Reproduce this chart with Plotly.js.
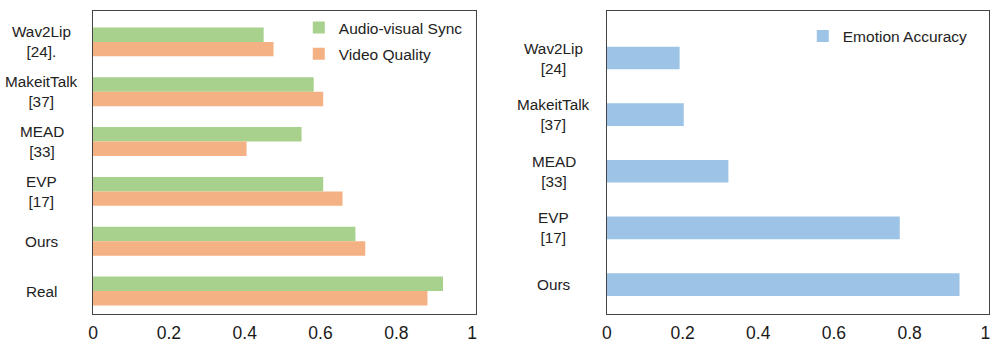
<!DOCTYPE html>
<html>
<head>
<meta charset="utf-8">
<script src="https://cdn.plot.ly/plotly-3.0.1.min.js"></script>
<style>
  html, body { margin: 0; padding: 0; background: #fff; }
  #chart { width: 996px; height: 352px; }
</style>
</head>
<body>
<div id="chart"></div>
<script>
// Left panel: sync / quality per method
const leftMethods = ["Wav2Lip<br>[24].", "MakeitTalk<br>[37]", "MEAD<br>[33]", "EVP<br>[17]", "Ours", "Real"];
const syncScores = [0.45, 0.582, 0.55, 0.607, 0.692, 0.923];
const qualityScores = [0.476, 0.607, 0.405, 0.658, 0.718, 0.882];

// Right panel: emotion accuracy
const rightMethods = ["Wav2Lip<br>[24]", "MakeitTalk<br>[37]", "MEAD<br>[33]", "EVP<br>[17]", "Ours"];
const emotionScores = [0.192, 0.203, 0.321, 0.774, 0.932];

const xTicks = [0, 0.2, 0.4, 0.6, 0.8, 1];

const font = "Arial, 'Liberation Sans', sans-serif";

const traces = [
  {
    type: "bar", orientation: "h", name: "Audio-visual Sync",
    y: leftMethods, x: syncScores, xaxis: "x", yaxis: "y",
    marker: { color: "#a9d18e" }, legend: "legend", legendgroup: "sync"
  },
  {
    type: "bar", orientation: "h", name: "Video Quality",
    y: leftMethods, x: qualityScores, xaxis: "x", yaxis: "y",
    marker: { color: "#f4b183" }, legend: "legend", legendgroup: "quality"
  },
  {
    type: "bar", orientation: "h", name: "Emotion Accuracy",
    y: rightMethods, x: emotionScores, xaxis: "x2", yaxis: "y2",
    width: 0.4, marker: { color: "#9dc3e6" }, legend: "legend2", showlegend: true
  }
];

function xAxis(domain, anchor) {
  return {
    domain, anchor, range: [0, 1.01],
    tickvals: xTicks, ticks: "", showgrid: false, zeroline: false,
    showline: true, mirror: true, linecolor: "#444", linewidth: 1,
    ticklabelstandoff: 3,
    tickfont: { family: font, size: 17.5, color: "#1a1a1a" }, fixedrange: true
  };
}

function yAxis(anchor, range) {
  return {
    anchor, range, type: "category", showticklabels: false, ticks: "",
    showgrid: false, zeroline: false,
    showline: true, mirror: true, linecolor: "#444", linewidth: 1
  };
}

// centred two-line category labels
const labels = [];
leftMethods.forEach(m => labels.push({
  text: m, x: 0.042, xref: "paper", y: m, yref: "y",
  showarrow: false, align: "center", xanchor: "center",
  font: { family: font, size: 15.3, color: "#222" }
}));
rightMethods.forEach(m => labels.push({
  text: m, x: 0.556, xref: "paper", y: m, yref: "y2",
  showarrow: false, align: "center", xanchor: "center",
  font: { family: font, size: 15.3, color: "#222" }
}));

const layout = {
  width: 996, height: 352,
  margin: { l: 0, r: 0, t: 11, b: 38 },
  paper_bgcolor: "#fff", plot_bgcolor: "#fff",
  barmode: "group", bargap: 0.42, bargroupgap: 0,
  xaxis: xAxis([0.0934, 0.4779], "y"),
  yaxis: yAxis("x", [5.46, -0.62]),
  xaxis2: xAxis([0.6094, 0.993], "y2"),
  yaxis2: yAxis("x2", [4.52, -0.83]),
  legend: {
    x: 0.300, y: 1.0, xanchor: "left", yanchor: "top",
    traceorder: "grouped", tracegroupgap: 3,
    bgcolor: "rgba(0,0,0,0)", font: { family: font, size: 15.5, color: "#222" }
  },
  legend2: {
    x: 0.806, y: 0.972, xanchor: "left", yanchor: "top",
    bgcolor: "rgba(0,0,0,0)", font: { family: font, size: 15.5, color: "#222" }
  },
  annotations: labels
};

Plotly.newPlot("chart", traces, layout, { staticPlot: true });
</script>
</body>
</html>
